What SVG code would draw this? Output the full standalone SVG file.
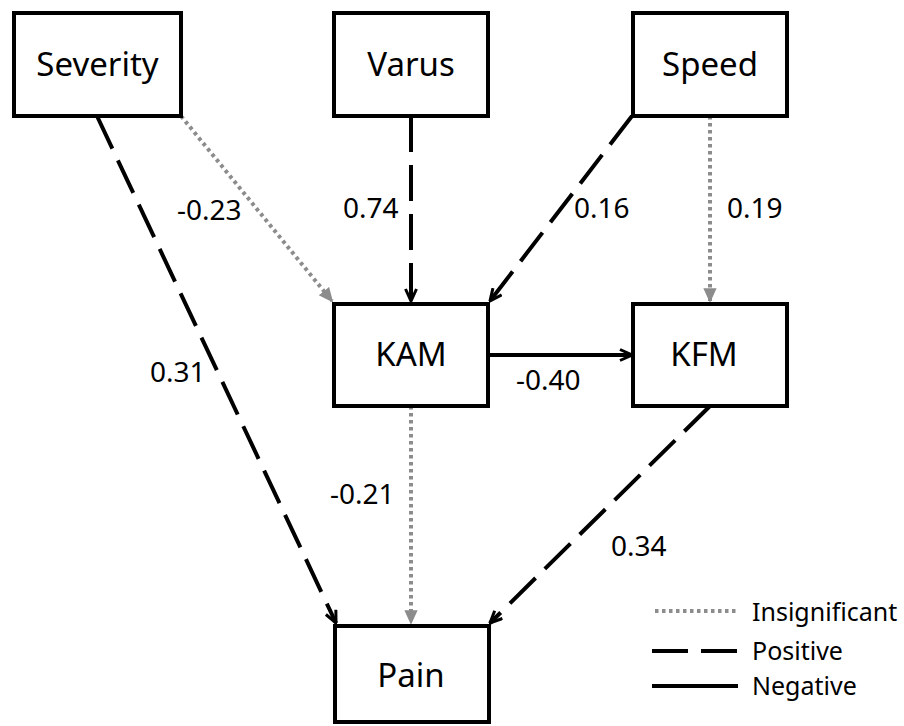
<svg xmlns="http://www.w3.org/2000/svg" width="904" height="726" viewBox="0 0 904 726">
<style>
.box{fill:#fff;stroke:#000;stroke-width:4}
.lbl{font-family:"Noto Sans","Open Sans",sans-serif;font-size:33px;fill:#000;text-anchor:middle}
.num{font-family:"Noto Sans","Open Sans",sans-serif;font-size:28px;fill:#000}
.leg{font-family:"Noto Sans","Open Sans",sans-serif;font-size:25px;fill:#000}
.dot{stroke:#8c8c8c;stroke-width:4;stroke-dasharray:3.5 3.5;fill:none}
.dash{stroke:#000;stroke-width:4;stroke-dasharray:36 13;fill:none}
.solid{stroke:#000;stroke-width:4;fill:none}
</style>
<defs>
<marker id="ab" viewBox="0 0 14 14" refX="13" refY="7" markerWidth="14" markerHeight="14" orient="auto" markerUnits="userSpaceOnUse">
<path d="M1,1.5 L13,7 L1,12.5" fill="none" stroke="#000" stroke-width="3"/>
</marker>
<marker id="ag" viewBox="0 0 14 14" refX="13" refY="7" markerWidth="14" markerHeight="14" orient="auto" markerUnits="userSpaceOnUse">
<path d="M1,1.5 L13,7 L1,12.5 Z" fill="#8c8c8c" stroke="#8c8c8c" stroke-width="1.5"/>
</marker>
</defs>
<rect width="904" height="726" fill="#fff"/>
<g id="connectors">
<line class="dash" x1="97" y1="116" x2="336" y2="623" marker-end="url(#ab)"/>
<line class="dot" x1="181" y1="116" x2="332" y2="301" marker-end="url(#ag)"/>
<line class="dash" x1="411" y1="116" x2="411" y2="301" marker-end="url(#ab)"/>
<line class="dash" x1="632" y1="116" x2="490" y2="301" marker-end="url(#ab)"/>
<line class="dot" x1="710" y1="116" x2="710" y2="301" marker-end="url(#ag)"/>
<line class="solid" x1="489" y1="355" x2="632" y2="355" marker-end="url(#ab)"/>
<line class="dot" x1="411" y1="406" x2="411" y2="623" marker-end="url(#ag)"/>
<line class="dash" x1="710" y1="406" x2="490" y2="623" marker-end="url(#ab)"/>
</g>
<g id="labels">
<text class="num" x="177" y="220">-0.23</text>
<text class="num" x="343" y="218">0.74</text>
<text class="num" x="574" y="218">0.16</text>
<text class="num" x="727" y="218">0.19</text>
<text class="num" x="150" y="382">0.31</text>
<text class="num" x="516" y="390">-0.40</text>
<text class="num" x="330" y="504">-0.21</text>
<text class="num" x="611" y="556">0.34</text>
</g>
<g id="severity"><rect class="box" x="14" y="13" width="167" height="103"/><text class="lbl" x="97.5" y="76">Severity</text></g>
<g id="varus"><rect class="box" x="334" y="13" width="154" height="103"/><text class="lbl" x="411" y="76">Varus</text></g>
<g id="speed"><rect class="box" x="633" y="13" width="154" height="103"/><text class="lbl" x="710" y="76">Speed</text></g>
<g id="kam"><rect class="box" x="334" y="304" width="154" height="102"/><text class="lbl" x="411" y="366">KAM</text></g>
<g id="kfm"><rect class="box" x="633" y="304" width="154" height="102"/><text class="lbl" x="704" y="366">KFM</text></g>
<g id="pain"><rect class="box" x="335" y="626" width="154" height="96"/><text class="lbl" x="411" y="687">Pain</text></g>
<g id="legend">
<line class="dot" x1="655" y1="611" x2="738" y2="611"/>
<line class="dash" x1="652" y1="651" x2="738" y2="651"/>
<line class="solid" x1="652" y1="686" x2="738" y2="686"/>
<text class="leg" x="752" y="621">Insignificant</text>
<text class="leg" x="752" y="660">Positive</text>
<text class="leg" x="752" y="695">Negative</text>
</g>
</svg>
